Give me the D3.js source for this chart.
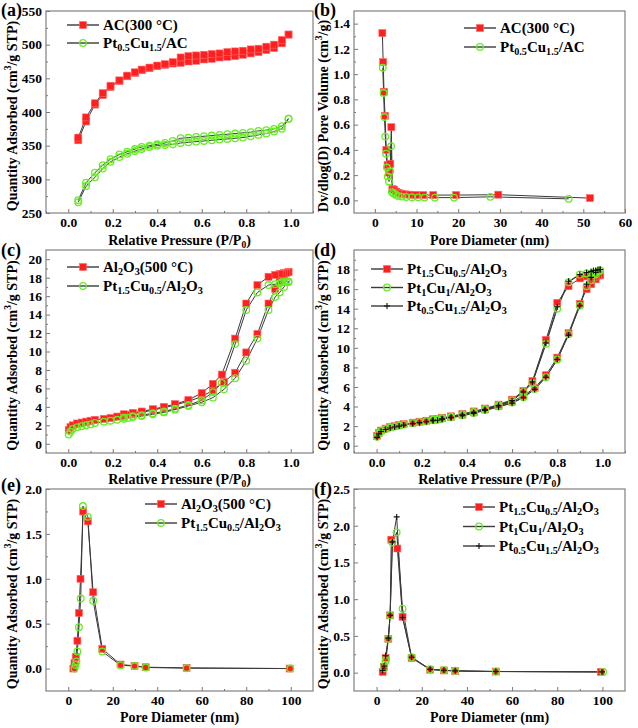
<!DOCTYPE html>
<html>
<head>
<meta charset="UTF-8">
<title>BET isotherms and pore size distributions</title>
<script src="https://d3js.org/d3.v7.min.js"></script>
<style>
  body { margin: 0; background: #fff; }
  svg { display: block; }
  text { font-family: "Liberation Serif", "Times New Roman", serif; font-weight: bold; fill: #000; }
  .tick line { stroke: #777; }
</style>
</head>
<body>
<div id="chart"></div>
<script>
// ---- (a) N2 isotherms, activated carbon
const aP = [0.045,0.08,0.12,0.155,0.19,0.23,0.265,0.30,0.33,0.365,0.40,0.435,0.47,0.505,0.54,0.575,0.61,0.645,0.68,0.715,0.75,0.785,0.82,0.855,0.89,0.925,0.96,0.99];
const acAds = [358,386,411,425,437,446,453,458,462,465,468,470,472,473,475,476,478,479,481,482,483,485,487,489,492,495,502,515];
const acDes = [362,392,413,428,439,447,454,459,463,466,469,471,474,481,483,484,485,486,487,489,490,491,493,494,497,500,507,515];
const ptAcAds = [266,290,303,316,326,333,338,342,345,348,350,351,352,354,355,356,357,358,359,360,361,362,364,366,368,371,375,390];
const ptAcDes = [269,295,310,321,330,337,341,345,348,350,352,354,357,361,362,363,364,365,366,367,368,369,370,372,373,375,379,390];

// ---- (b) pore size distribution, activated carbon
const acD = [1.8,2.0,2.2,2.45,2.75,3.05,3.4,3.7,3.95,4.2,4.6,5.1,5.7,6.4,7.3,8.4,9.8,11.6,14.0,19.5,29.6,51.6];
const acDV = [1.325,1.095,0.86,0.67,0.40,0.28,0.22,0.29,0.58,0.09,0.085,0.07,0.06,0.053,0.048,0.045,0.043,0.042,0.042,0.042,0.045,0.018];
const ptAcD = [1.9,2.1,2.3,2.5,2.7,2.9,3.1,3.4,3.7,3.9,4.1,4.5,5.0,5.6,6.5,7.5,8.9,10.4,11.9,14.4,19.0,27.7,46.5];
const ptAcDV = [1.05,0.85,0.66,0.505,0.37,0.26,0.19,0.15,0.23,0.43,0.065,0.055,0.045,0.035,0.030,0.027,0.025,0.024,0.022,0.022,0.022,0.028,0.012];

// ---- (c), (d) N2 isotherms, alumina
const alAdsP = [0.002,0.01,0.02,0.04,0.06,0.08,0.10,0.12,0.16,0.19,0.22,0.25,0.27,0.29,0.33,0.38,0.43,0.48,0.54,0.60,0.65,0.70,0.75,0.80,0.85,0.90,0.93,0.95,0.97,0.99];
const alDesP = [0.99,0.98,0.97,0.96,0.95,0.93,0.90,0.85,0.80,0.75,0.69,0.65,0.60,0.54,0.48,0.43,0.38,0.33,0.29,0.25];
const alAds = [1.5,1.8,2.0,2.2,2.3,2.4,2.5,2.6,2.7,2.8,2.95,3.05,3.15,3.25,3.4,3.65,3.9,4.2,4.6,5.1,5.8,6.7,7.7,9.9,11.9,15.2,16.8,17.6,18.2,18.6];
const alDes = [18.6,18.5,18.5,18.4,18.4,18.3,18.1,17.2,15.2,11.4,7.5,6.5,5.5,4.75,4.3,4.0,3.75,3.5,3.35,3.2];
const p15Ads = [1.0,1.3,1.6,1.8,1.9,2.0,2.1,2.25,2.4,2.5,2.6,2.7,2.8,2.9,3.0,3.2,3.4,3.7,4.1,4.5,5.0,5.9,7.1,9.0,11.4,14.5,15.9,16.4,17.0,17.5];
const p15Des = [17.6,17.6,17.5,17.5,17.4,17.3,17.2,16.4,14.5,10.8,6.6,5.6,4.7,4.2,3.8,3.5,3.3,3.1,3.0,2.85];

const dRAds = [1.0,1.3,1.55,1.75,1.9,2.0,2.1,2.2,2.35,2.45,2.55,2.65,2.7,2.8,2.95,3.15,3.4,3.7,4.05,4.5,5.1,5.9,7.2,9.0,11.5,14.5,16.0,16.5,17.0,17.4];
const dRDes = [17.5,17.4,17.3,17.2,17.2,17.3,17.1,16.3,14.6,10.8,6.6,5.6,4.7,4.2,3.8,3.5,3.25,3.0,2.85,2.7];
const dGAds = [0.9,1.25,1.5,1.7,1.85,1.95,2.05,2.15,2.3,2.4,2.5,2.6,2.65,2.75,2.9,3.1,3.35,3.65,4.0,4.4,4.95,5.8,7.0,8.8,11.4,14.3,16.3,16.9,17.5,17.9];
const dGDes = [17.9,17.8,17.7,17.6,17.6,17.6,17.5,16.7,14.0,10.4,6.4,5.5,4.6,4.15,3.75,3.45,3.2,2.95,2.8,2.65];
const dKAds = [0.85,1.2,1.45,1.65,1.8,1.9,2.0,2.1,2.25,2.35,2.45,2.55,2.6,2.7,2.85,3.05,3.3,3.6,3.95,4.35,4.9,5.75,7.0,8.8,11.3,14.3,16.5,17.2,17.7,18.0];
const dKDes = [18.0,18.0,17.9,17.9,17.8,17.7,17.5,16.8,14.2,10.5,6.5,5.5,4.6,4.1,3.7,3.4,3.15,2.9,2.75,2.6];

// ---- (e), (f) pore size distribution, alumina
const eRD = [2.3,2.8,3.4,4.1,4.8,5.5,6.7,8.8,11.2,15.3,23.5,29.8,34.8,53.2,99.5];
const eRV = [0.0,0.06,0.13,0.31,0.62,1.0,1.75,1.64,0.85,0.22,0.045,0.03,0.015,0.008,0.0];
const eGD = [2.8,3.3,3.7,4.1,4.8,5.6,6.6,8.8,11.2,15.3,23.5,29.8,34.8,53.2,99.8];
const eGV = [0.0,0.04,0.08,0.19,0.46,0.78,1.81,1.69,0.755,0.19,0.037,0.028,0.012,0.004,0.0];
const fRD = [2.7,3.3,4.0,5.2,6.0,6.5,9.2,11.5,15.5,23.7,29.8,34.8,52.8,99.3];
const fRV = [0.01,0.08,0.2,0.46,0.78,1.81,1.69,0.76,0.2,0.04,0.03,0.022,0.015,0.01];
const fGD = [3.3,4.0,4.2,5.2,6.0,7.0,8.9,11.5,15.5,23.7,29.8,34.8,52.8,100.3];
const fGV = [0.06,0.16,0.19,0.46,0.78,1.77,1.91,0.87,0.21,0.046,0.033,0.025,0.016,0.01];
const fKD = [2.7,3.3,4.0,5.2,6.0,7.0,8.9,11.5,15.5,23.7,29.8,34.8,52.8,99.8];
const fKV = [0.03,0.09,0.23,0.47,0.78,1.78,2.12,0.75,0.21,0.045,0.032,0.024,0.015,0.01];

// tick values
const pTicks = [0, 0.2, 0.4, 0.6, 0.8, 1.0];
const pMinor = [-0.1, 0.1, 0.3, 0.5, 0.7, 0.9, 1.1];
const aYTicks = [250, 300, 350, 400, 450, 500, 550];
const bXTicks = [0, 10, 20, 30, 40, 50, 60];
const bYTicks = [0, 0.2, 0.4, 0.6, 0.8, 1.0, 1.2, 1.4];
const cYTicks = [0, 2, 4, 6, 8, 10, 12, 14, 16, 18, 20];
const dYTicks = [0, 2, 4, 6, 8, 10, 12, 14, 16, 18];
const eXTicks = [0, 20, 40, 60, 80, 100];
const eYTicks = [0, 0.5, 1.0, 1.5, 2.0];
const fYTicks = [0, 0.5, 1.0, 1.5, 2.0, 2.5];

// legend names: [text, 1 = subscript]
const nAC = [["AC(300 °C)"]];
const nPtAC = [["Pt"], ["0.5", 1], ["Cu"], ["1.5", 1], ["/AC"]];
const nAl = [["Al"], ["2", 1], ["O"], ["3", 1], ["(500 °C)"]];
const nP15 = [["Pt"], ["1.5", 1], ["Cu"], ["0.5", 1], ["/Al"], ["2", 1], ["O"], ["3", 1]];
const nP11 = [["Pt"], ["1", 1], ["Cu"], ["1", 1], ["/Al"], ["2", 1], ["O"], ["3", 1]];
const nP05 = [["Pt"], ["0.5", 1], ["Cu"], ["1.5", 1], ["/Al"], ["2", 1], ["O"], ["3", 1]];

const RED = "#ff1f1f", GREEN = "#66ee22", LINE = "#3a3a3a";

const svg = d3.select("#chart").append("svg")
  .attr("width", 638).attr("height", 728);

function zip(xs, ys) { return xs.map((v, i) => [v, ys[i]]); }
function loop(adsX, ads, desX, des) { return zip(adsX, ads).concat(zip(desX, des)); }

function marker(g, type, cx, cy) {
  if (type === "sq") {
    g.append("rect").attr("x", cx - 3.5).attr("y", cy - 3.5).attr("width", 7).attr("height", 7)
      .attr("fill", RED).attr("stroke", "#ff6a6a").attr("stroke-width", 0.6);
  } else if (type === "ci") {
    g.append("circle").attr("cx", cx).attr("cy", cy).attr("r", 3.3)
      .attr("fill", "none").attr("stroke", GREEN).attr("stroke-width", 1.3);
  } else {
    g.append("path").attr("d", `M${cx - 3},${cy}H${cx + 3}M${cx},${cy - 3}V${cy + 3}`)
      .attr("stroke", "#111").attr("stroke-width", 1.1);
  }
}

// sub = 1 (down), sup = 2 (up)
function richText(t, parts, size) {
  const off = v => v === 1 ? 3 : v === 2 ? -6 : 0;
  parts.forEach((p, i) => {
    const prev = i > 0 ? (parts[i - 1][1] || 0) : 0;
    const cur = p[1] || 0;
    const s = t.append("tspan").text(p[0]).attr("dy", off(cur) - off(prev));
    if (cur) s.attr("font-size", size * 0.68);
  });
}

function panel(cfg) {
  const [x0, x1, y0, y1] = cfg.box;
  const x = d3.scaleLinear().domain(cfg.xd).range([x0, x1]);
  const y = d3.scaleLinear().domain(cfg.yd).range([y1, y0]);
  const g = svg.append("g");

  const fmtX = cfg.fmtX || (d => d);
  const fmtY = cfg.fmtY || (d => d);

  g.append("g").attr("transform", `translate(0,${y1})`)
    .call(d3.axisBottom(x).tickValues(cfg.xMinor).tickSize(-2).tickFormat(""))
    .call(a => a.select(".domain").remove());
  g.append("g").attr("transform", `translate(${x0},0)`)
    .call(d3.axisLeft(y).tickValues(cfg.yMinor).tickSize(-2).tickFormat(""))
    .call(a => a.select(".domain").remove());
  g.append("g").attr("transform", `translate(0,${y1})`)
    .call(d3.axisBottom(x).tickValues(cfg.xt).tickSize(-4).tickPadding(4).tickFormat(fmtX))
    .call(a => a.select(".domain").remove())
    .selectAll("text").attr("font-size", 13.5).style("font-family", "Liberation Serif").style("font-weight", "bold");
  g.append("g").attr("transform", `translate(${x0},0)`)
    .call(d3.axisLeft(y).tickValues(cfg.yt).tickSize(-4).tickPadding(4).tickFormat(fmtY))
    .call(a => a.select(".domain").remove())
    .selectAll("text").attr("font-size", 13.5).style("font-family", "Liberation Serif").style("font-weight", "bold");

  g.append("rect").attr("x", x0).attr("y", y0).attr("width", x1 - x0).attr("height", y1 - y0)
    .attr("fill", "none").attr("stroke", "#808080").attr("stroke-width", 1.2);

  const line = d3.line().x(d => x(d[0])).y(d => y(d[1]));
  cfg.series.forEach(s => {
    g.append("path").attr("d", line(s.pts)).attr("fill", "none")
      .attr("stroke", LINE).attr("stroke-width", 1);
  });
  cfg.series.forEach(s => {
    s.pts.forEach(p => marker(g, s.m, x(p[0]), y(p[1])));
  });

  // legend
  cfg.series.forEach((s, i) => {
    const ly = cfg.leg[1] + i * cfg.leg[2];
    const lx = cfg.leg[0];
    g.append("line").attr("x1", lx).attr("x2", lx + 32).attr("y1", ly).attr("y2", ly)
      .attr("stroke", LINE).attr("stroke-width", 1.4);
    marker(g, s.m, lx + 16, ly);
    const t = g.append("text").attr("x", lx + 36).attr("y", ly + 5).attr("font-size", 15);
    richText(t, s.name, 15);
  });

  // axis titles
  g.append("text").attr("x", (x0 + x1) / 2).attr("y", cfg.xtY).attr("text-anchor", "middle")
    .attr("font-size", 14).call(t => richText(t, cfg.xtitle, 14));
  g.append("text").attr("transform", `translate(${cfg.ytX},${(y0 + y1) / 2 + 4}) rotate(-90)`)
    .attr("text-anchor", "middle").attr("font-size", 14).call(t => richText(t, cfg.ytitle, 14));

  g.append("text").attr("x", cfg.lab[0]).attr("y", cfg.lab[1]).attr("font-size", 18).text(cfg.label);
}

const tRP = [["Relative Pressure (P/P"], ["0", 1], [")"]];
const tPD = [["Pore Diameter (nm)"]];
const tQA = [["Quantity Adsorbed (cm"], ["3", 2], ["/g STP)"]];
const tDV = [["Dv/dlog(D) Pore Volume (cm"], ["3", 2], ["/g)"]];
const f1 = d3.format(".1f");

const L = [46, 313], R = [354, 625];
const row1 = [11, 213], row2 = [250, 453], row3 = [489, 691];

panel({ box: [...L, ...row1], xd: [-0.1, 1.1], yd: [250, 550], xt: pTicks, xMinor: pMinor,
  yt: aYTicks, yMinor: [275, 325, 375, 425, 475, 525], fmtX: f1,
  series: [
    { m: "sq", name: nAC, pts: loop(aP, acAds, aP.slice().reverse(), acDes.slice().reverse()) },
    { m: "ci", name: nPtAC, pts: loop(aP, ptAcAds, aP.slice().reverse(), ptAcDes.slice().reverse()) }
  ],
  leg: [67, 25, 18], xtitle: tRP, xtY: 245, ytitle: tQA, ytX: 17, label: "(a)", lab: [1, 16] });

panel({ box: [...R, ...row1], xd: [-5, 60], yd: [-0.1, 1.5], xt: bXTicks, xMinor: [5, 15, 25, 35, 45, 55],
  yt: bYTicks, yMinor: [0.1, 0.3, 0.5, 0.7, 0.9, 1.1, 1.3], fmtY: f1,
  series: [
    { m: "sq", name: nAC, pts: zip(acD, acDV) },
    { m: "ci", name: nPtAC, pts: zip(ptAcD, ptAcDV) }
  ],
  leg: [464, 28, 19], xtitle: tPD, xtY: 245, ytitle: tDV, ytX: 328, label: "(b)", lab: [314, 16] });

panel({ box: [...L, ...row2], xd: [-0.1, 1.1], yd: [-1, 21], xt: pTicks, xMinor: pMinor,
  yt: cYTicks, yMinor: [1, 3, 5, 7, 9, 11, 13, 15, 17, 19], fmtX: f1,
  series: [
    { m: "sq", name: nAl, pts: loop(alAdsP, alAds, alDesP, alDes) },
    { m: "ci", name: nP15, pts: loop(alAdsP, p15Ads, alDesP, p15Des) }
  ],
  leg: [67, 267, 19], xtitle: tRP, xtY: 484, ytitle: tQA, ytX: 17, label: "(c)", lab: [1, 256] });

panel({ box: [...R, ...row2], xd: [-0.1, 1.1], yd: [-0.75, 20], xt: pTicks, xMinor: pMinor,
  yt: dYTicks, yMinor: [1, 3, 5, 7, 9, 11, 13, 15, 17, 19], fmtX: f1,
  series: [
    { m: "sq", name: nP15, pts: loop(alAdsP, dRAds, alDesP, dRDes) },
    { m: "ci", name: nP11, pts: loop(alAdsP, dGAds, alDesP, dGDes) },
    { m: "pl", name: nP05, pts: loop(alAdsP, dKAds, alDesP, dKDes) }
  ],
  leg: [371, 269, 18.5], xtitle: tRP, xtY: 484, ytitle: tQA, ytX: 328, label: "(d)", lab: [314, 256] });

panel({ box: [...L, ...row3], xd: [-10, 110], yd: [-0.25, 2.0], xt: eXTicks, xMinor: [10, 30, 50, 70, 90],
  yt: eYTicks, yMinor: [0.25, 0.75, 1.25, 1.75], fmtY: f1,
  series: [
    { m: "sq", name: nAl, pts: zip(eRD, eRV) },
    { m: "ci", name: nP15, pts: zip(eGD, eGV) }
  ],
  leg: [145, 504, 19], xtitle: tPD, xtY: 722, ytitle: tQA, ytX: 17, label: "(e)", lab: [1, 491] });

panel({ box: [...R, ...row3], xd: [-10, 110], yd: [-0.25, 2.5], xt: eXTicks, xMinor: [10, 30, 50, 70, 90],
  yt: fYTicks, yMinor: [0.25, 0.75, 1.25, 1.75, 2.25], fmtY: f1,
  series: [
    { m: "sq", name: nP15, pts: zip(fRD, fRV) },
    { m: "ci", name: nP11, pts: zip(fGD, fGV) },
    { m: "pl", name: nP05, pts: zip(fKD, fKV) }
  ],
  leg: [463, 507, 19.5], xtitle: tPD, xtY: 722, ytitle: tQA, ytX: 328, label: "(f)", lab: [314, 495] });
</script>
</body>
</html>
